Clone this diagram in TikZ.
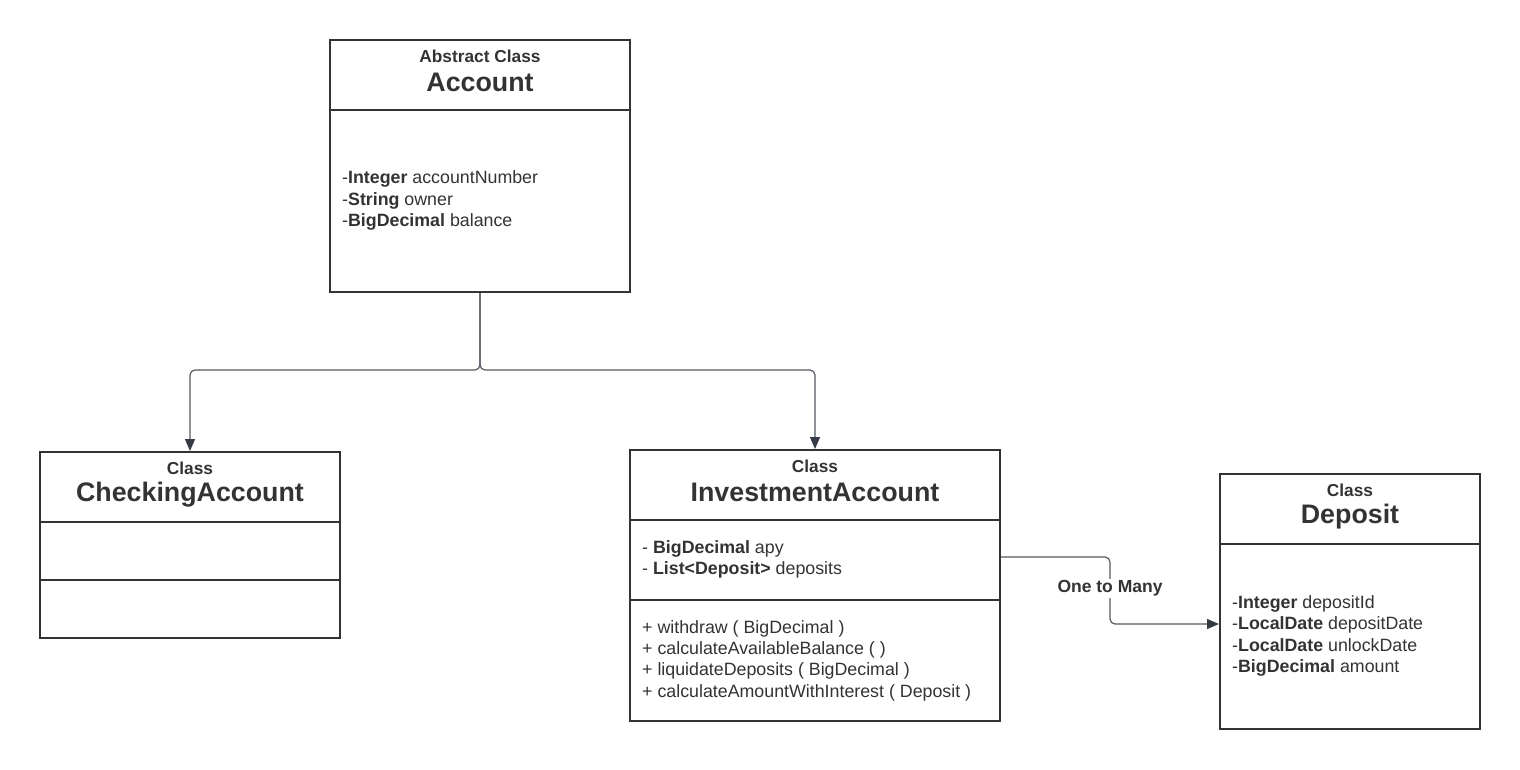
\documentclass[tikz,border=0pt]{standalone}
\usepackage{fontspec}
\setmainfont{Liberation Sans}
\usetikzlibrary{arrows.meta}
\definecolor{boxc}{HTML}{333333}
\definecolor{connc}{HTML}{555A63}
\definecolor{tipc}{HTML}{343A46}
\definecolor{txtc}{HTML}{333333}
\tikzset{
  classbox/.style={draw=boxc, line width=2pt, inner sep=0pt, fill=white},
  divider/.style={draw=boxc, line width=2pt},
  kind/.style={text=txtc, font=\fontsize{17.3}{20}\selectfont\bfseries, inner sep=0pt},
  title/.style={text=txtc, font=\fontsize{26.8}{30}\selectfont\bfseries, inner sep=0pt},
  body/.style={text=txtc, font=\fontsize{17.8}{21.4}\selectfont, align=left, anchor=west, inner sep=0pt},
  conn/.style={draw=connc, line width=1.2pt, rounded corners=5pt},
  arr/.style={-{Triangle[length=12pt,width=10pt,color=tipc]}},
  lbl/.style={text=txtc, font=\fontsize{17.5}{20}\selectfont\bfseries, fill=white, inner sep=2pt}
}
\begin{document}
\begin{tikzpicture}[x=1pt,y=-1pt]
\useasboundingbox (0,0) rectangle (1520,770);
% Account
\node[classbox, minimum width=300pt, minimum height=252pt] (acc) at (480,166) {};
\draw[divider] (330,110) -- (630,110);
\node[kind] (acck) at (480,56) {Abstract Class};
\node[title] (acct) at (480,82.5) {Account};
\node[body] (accb) at (342,200.5) {-\textbf{Integer} accountNumber\\-\textbf{String} owner\\-\textbf{BigDecimal} balance};
% CheckingAccount
\node[classbox, minimum width=300pt, minimum height=186pt] (chk) at (190,545) {};
\draw[divider] (40,522) -- (340,522);
\draw[divider] (40,580) -- (340,580);
\node[kind] (chkk) at (190,468) {Class};
\node[title] (chkt) at (190,494.5) {CheckingAccount};
% InvestmentAccount
\node[classbox, minimum width=370pt, minimum height=271pt] (inv) at (815,585.5) {};
\draw[divider] (630,520) -- (1000,520);
\draw[divider] (630,600) -- (1000,600);
\node[kind] (invk) at (815,466) {Class};
\node[title] (invt) at (815,492.5) {InvestmentAccount};
\node[body] (inva) at (642,559.5) {- \textbf{BigDecimal} apy\\- \textbf{List<Deposit>} deposits};
\node[body] (invm) at (642,660.5) {+ withdraw ( BigDecimal )\\+ calculateAvailableBalance ( )\\+ liquidateDeposits ( BigDecimal )\\+ calculateAmountWithInterest ( Deposit )};
% Deposit
\node[classbox, minimum width=260pt, minimum height=255pt] (dep) at (1350,601.5) {};
\draw[divider] (1220,544) -- (1480,544);
\node[kind] (depk) at (1350,490) {Class};
\node[title] (dept) at (1350,516.5) {Deposit};
\node[body] (depb) at (1232,636) {-\textbf{Integer} depositId\\-\textbf{LocalDate} depositDate\\-\textbf{LocalDate} unlockDate\\-\textbf{BigDecimal} amount};
% connectors
\coordinate (j) at (480,370);
\draw[conn, arr] (acc.south) -- (j) -| (chk.north);
\draw[conn, arr] (acc.south) -- (j) -| (inv.north);
\coordinate (m1) at (1110,557);
\coordinate (m2) at (1110,624);
\draw[conn, arr] (inv.east |- m1) -- (m1) -- (m2) -- (dep.west |- m2);
\node[lbl] (otm) at (1110,588.5) {One to Many};
\end{tikzpicture}
\end{document}
